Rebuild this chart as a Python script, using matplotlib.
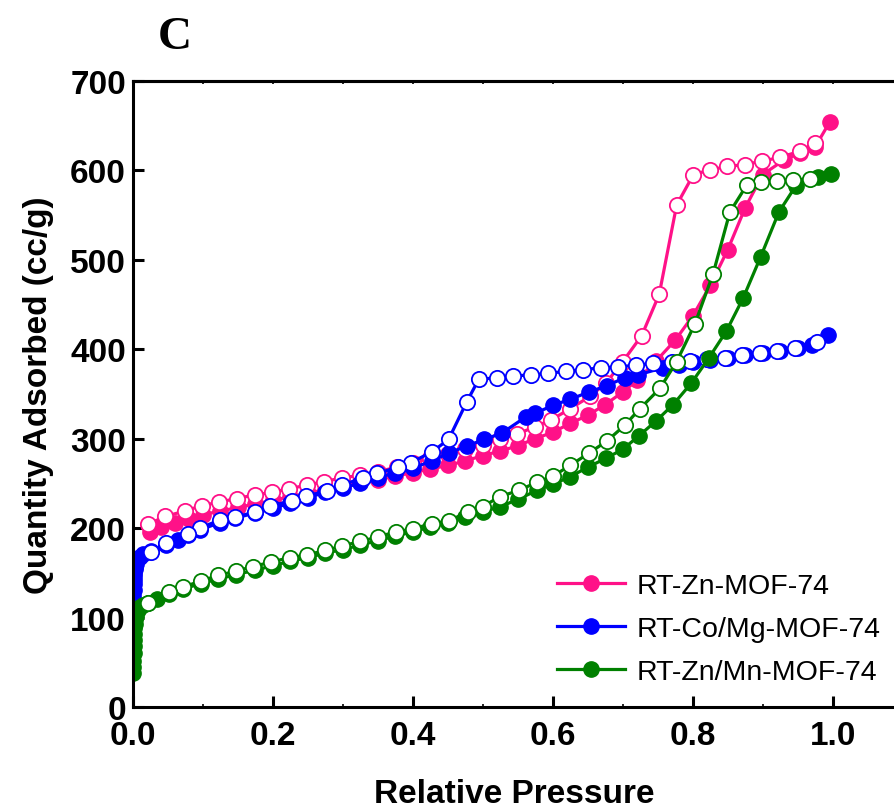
import matplotlib
matplotlib.use("Agg")
import matplotlib.pyplot as plt
from matplotlib.ticker import MultipleLocator

plt.rcParams["font.family"] = ["Liberation Sans", "DejaVu Sans"]

# --- isotermas (P/P0, cc/g): ads = preenchido, des = aberto ---
pink_ads_x = [0.024, 0.04, 0.06, 0.08, 0.10, 0.125, 0.15, 0.175, 0.20, 0.225, 0.25, 0.275, 0.30,
              0.325, 0.35, 0.375, 0.40, 0.425, 0.45, 0.475, 0.50, 0.525, 0.55, 0.575, 0.60, 0.625,
              0.65, 0.675, 0.70, 0.72, 0.748, 0.775, 0.80, 0.825, 0.85, 0.875, 0.90, 0.93, 0.953,
              0.975, 0.996]
pink_ads_y = [196, 201, 206, 210, 215, 219, 223, 227, 231, 235, 239, 243, 247, 251, 254, 258, 262,
              266, 270, 275, 281, 286, 292, 300, 307, 317, 326, 338, 352, 365, 387, 410, 437, 471,
              511, 558, 595, 611, 619, 626, 654]
pink_des_x = [0.974, 0.953, 0.924, 0.899, 0.874, 0.849, 0.824, 0.801, 0.777, 0.752, 0.727, 0.70,
              0.676, 0.653, 0.624, 0.598, 0.574, 0.549, 0.524, 0.50, 0.475, 0.45, 0.425, 0.40,
              0.377, 0.35, 0.324, 0.299, 0.273, 0.249, 0.223, 0.199, 0.174, 0.148, 0.123, 0.098,
              0.074, 0.046, 0.021]
pink_des_y = [630, 621, 614, 610, 606, 604, 600, 595, 561, 461, 415, 386, 362, 347, 333, 321, 313,
              305, 299, 293, 288, 283, 278, 273, 268, 263, 259, 256, 252, 248, 244, 240, 237, 233,
              229, 225, 219, 213, 204]

blue_ads_x = [0.0002, 0.0004, 0.0006, 0.0008, 0.001, 0.0013, 0.0016, 0.002, 0.0025, 0.003, 0.004,
              0.005, 0.007, 0.01, 0.015, 0.026, 0.047, 0.065, 0.078, 0.096, 0.124, 0.146, 0.175,
              0.2, 0.225, 0.25, 0.275, 0.3, 0.325, 0.35, 0.375, 0.4, 0.427, 0.452, 0.478, 0.502,
              0.527, 0.561, 0.574, 0.6, 0.625, 0.652, 0.677, 0.703, 0.721, 0.757, 0.78, 0.8,
              0.825, 0.85, 0.875, 0.9, 0.925, 0.95, 0.97, 0.993]
blue_ads_y = [108, 116, 124, 131, 137, 142, 146, 150, 154, 157, 160, 163, 166, 168, 171, 174, 181,
              187, 192, 198, 206, 211, 217, 222, 228, 234, 240, 245, 250, 256, 262, 267, 275, 284,
              292, 299, 306, 324, 328, 337, 344, 352, 359, 368, 371, 379, 382, 385, 388, 390, 393,
              396, 398, 401, 405, 416]
blue_des_x = [0.977, 0.946, 0.921, 0.896, 0.87, 0.846, 0.82, 0.796, 0.77, 0.743, 0.719, 0.693,
              0.669, 0.643, 0.619, 0.593, 0.569, 0.543, 0.52, 0.494, 0.477, 0.451, 0.427, 0.397,
              0.379, 0.349, 0.329, 0.298, 0.277, 0.247, 0.227, 0.196, 0.174, 0.146, 0.124, 0.096,
              0.078, 0.047, 0.026]
blue_des_y = [408, 401, 398, 396, 393, 390, 389, 387, 385, 384, 382, 380, 379, 377, 375, 373, 371,
              370, 368, 366, 341, 299, 285, 273, 268, 261, 256, 248, 241, 236, 230, 225, 218, 212,
              209, 200, 193, 183, 173]

green_ads_x = [0.0002, 0.0004, 0.0006, 0.0008, 0.001, 0.0013, 0.0016, 0.002, 0.0025, 0.003, 0.004,
               0.005, 0.007, 0.01, 0.014, 0.021, 0.035, 0.052, 0.072, 0.097, 0.122, 0.147, 0.175,
               0.2, 0.225, 0.25, 0.275, 0.3, 0.325, 0.35, 0.375, 0.4, 0.425, 0.45, 0.475, 0.5,
               0.525, 0.55, 0.577, 0.6, 0.624, 0.65, 0.676, 0.7, 0.723, 0.748, 0.772, 0.798, 0.823,
               0.848, 0.872, 0.897, 0.923, 0.947, 0.979, 0.997]
green_ads_y = [38, 45, 52, 60, 68, 75, 82, 88, 93, 98, 102, 106, 109, 112, 114, 116, 121, 126, 132,
               138, 143, 148, 153, 158, 163, 167, 172, 176, 181, 186, 191, 196, 201, 206, 212, 218,
               224, 232, 242, 249, 257, 268, 278, 288, 303, 320, 338, 362, 390, 420, 457, 503, 553,
               582, 592, 596]
green_des_x = [0.968, 0.943, 0.92, 0.897, 0.877, 0.853, 0.829, 0.803, 0.777, 0.753, 0.724, 0.703,
               0.677, 0.652, 0.625, 0.6, 0.577, 0.551, 0.524, 0.5, 0.479, 0.451, 0.427, 0.4, 0.376,
               0.35, 0.324, 0.299, 0.274, 0.249, 0.224, 0.197, 0.172, 0.147, 0.122, 0.097, 0.072,
               0.052, 0.021]
green_des_y = [590, 589, 588, 587, 583, 553, 484, 428, 386, 356, 333, 315, 297, 284, 270, 258, 251,
               242, 235, 224, 218, 208, 205, 199, 196, 190, 185, 180, 175, 170, 167, 162, 157, 152,
               147, 141, 134, 128, 116]

series = [
    ("RT-Zn-MOF-74", "#ff1188", pink_ads_x, pink_ads_y, pink_des_x, pink_des_y),
    ("RT-Co/Mg-MOF-74", "#0000ff", blue_ads_x, blue_ads_y, blue_des_x, blue_des_y),
    ("RT-Zn/Mn-MOF-74", "#008000", green_ads_x, green_ads_y, green_des_x, green_des_y),
]

fig = plt.figure(figsize=(8.95, 8.12), dpi=100)
ax = fig.add_axes([0.1486, 0.128, 0.8514, 0.7716])

for label, cor, xa, ya, xd, yd in series:
    ax.plot(xa, ya, "-o", color=cor, lw=2.3, ms=11, mfc=cor, mec=cor, label=label)
    ax.plot(xd, yd, "-o", color=cor, lw=2.3, ms=11, mfc="white", mec=cor, mew=1.3)

ax.set_xlim(0, 1.089)
ax.set_ylim(0, 700)
ax.xaxis.set_major_locator(MultipleLocator(0.2))
ax.xaxis.set_minor_locator(MultipleLocator(0.1))
ax.yaxis.set_major_locator(MultipleLocator(100))
ax.xaxis.set_major_formatter(plt.FuncFormatter(lambda v, p: f"{v:.1f}"))

for s in ["left", "bottom", "top"]:
    ax.spines[s].set_linewidth(2.2)
ax.spines["right"].set_visible(False)

ax.tick_params(which="major", direction="in", length=8, width=2.2, labelsize=24, pad=9)
ax.tick_params(which="minor", direction="in", length=2.5, width=1.2)
ax.tick_params(axis="y", which="both", right=False, pad=5)
for t in ax.get_xticklabels() + ax.get_yticklabels():
    t.set_fontweight("bold")

top = ax.secondary_xaxis("top")
top.xaxis.set_major_locator(MultipleLocator(0.1))
top.tick_params(direction="in", length=2.5, width=1.2, labeltop=False)
top.spines["top"].set_linewidth(2.2)

ax.set_xlabel("Relative Pressure", fontsize=24, fontweight="bold", labelpad=20)
ax.set_ylabel("Quantity Adsorbed (cc/g)", fontsize=24, fontweight="bold", labelpad=12)

ax.legend(loc="lower right", frameon=False, fontsize=20.5, handlelength=2.4, handletextpad=0.4,
          labelspacing=0.6, borderaxespad=0.1, bbox_to_anchor=(1.0, 0.013))

fig.text(175 / 895, 1 - 38 / 812, "C", family=["Liberation Serif", "DejaVu Serif"],
         fontweight="bold", fontsize=34, ha="center", va="center")

fig.savefig("out.png", dpi=100)
